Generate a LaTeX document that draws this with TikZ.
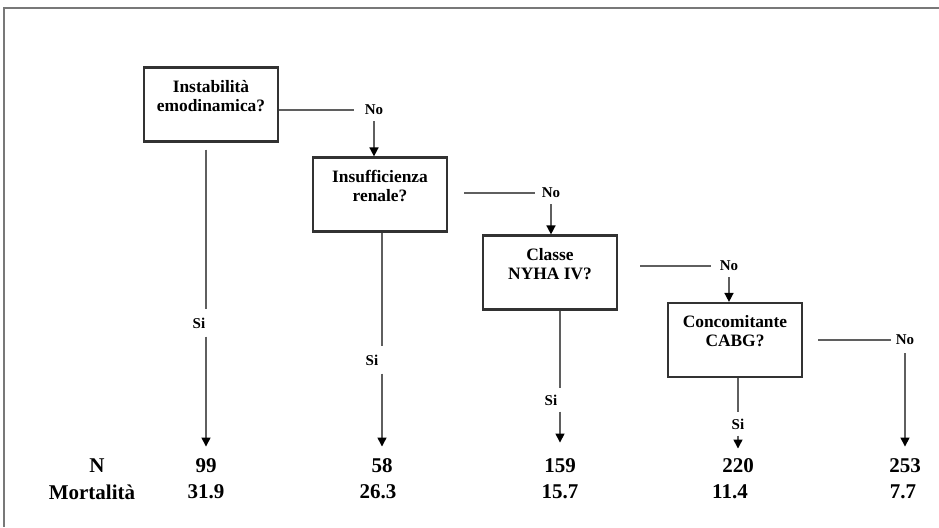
\documentclass[tikz,border=0pt]{standalone}
\usepackage{fontspec}
\setmainfont{Liberation Serif}
\usetikzlibrary{positioning,arrows.meta,calc}
\definecolor{boxgray}{RGB}{50,50,50}
\definecolor{linegray}{RGB}{95,95,95}
\definecolor{framegray}{RGB}{120,120,120}

\begin{document}
\begin{tikzpicture}[x=0.5pt,y=-0.5pt,
  quest/.style={rectangle,draw=boxgray,line width=1.1pt,
    font=\bfseries\fontsize{8.7}{9.5}\selectfont,
    minimum width=67pt,minimum height=37pt,align=center,text depth=9pt,inner sep=2pt},
  yn/.style={font=\bfseries\fontsize{7.5}{8}\selectfont,inner sep=1pt},
  val/.style={font=\bfseries\fontsize{10.5}{12}\selectfont,inner sep=1pt},
  link/.style={linegray,line width=0.75pt},
  arr/.style={-{Triangle[width=4.5pt,length=4.5pt,color=black]},linegray,line width=0.75pt}
]
\useasboundingbox (0,0) rectangle (939,527);
\draw[framegray,line width=1pt] (939,8) -- (4,8) -- (4,527);

% questions
\node[quest] (q1) at (211,104.5) {Instabilità\\emodinamica?};
\node[quest] (q2) at (380,194.5) {Insufficienza\\renale?};
\node[quest] (q3) at (550,272.5) {Classe\\NYHA IV?};
\node[quest] (q4) at (735,340) {Concomitante\\CABG?};

% answers
\node[yn] (no1) at (374,110) {No};
\node[yn] (no2) at (551,193) {No};
\node[yn] (no3) at (729,266) {No};
\node[yn] (no4) at (905,340) {No};
\node[yn] (si1) at (199,323) {Si};
\node[yn] (si2) at (372,360) {Si};
\node[yn] (si3) at (551,400) {Si};
\node[yn] (si4) at (738,424) {Si};

% table
\node[val] (nlab) at (97,466) {N};
\node[val] (mlab) at (92,492) {Mortalità};
\node[val] (n1) at (206,466) {99};
\node[val] (n2) at (382,466) {58};
\node[val] (n3) at (560,466) {159};
\node[val] (n4) at (738,466) {220};
\node[val] (n5) at (905,466) {253};
\node[val] (m1) at (206,492) {31.9};
\node[val] (m2) at (378,492) {26.3};
\node[val] (m3) at (560,492) {15.7};
\node[val] (m4) at (730,492) {11.4};
\node[val] (m5) at (903,492) {7.7};

% no branches
\draw[link,shorten >=4pt] (no1.west -| q1.east) -- (no1.west);
\draw[link,shorten <=8pt,shorten >=2pt] (no2.west -| q2.east) -- (no2.west);
\draw[link,shorten <=11pt,shorten >=3pt] (no3.west -| q3.east) -- (no3.west);
\draw[link,shorten <=7.5pt,shorten >=1pt] (no4.west -| q4.east) -- (no4.west);
\draw[arr,shorten <=2pt] (no1.south) -- (no1.south |- q2.north);
\draw[arr,shorten <=2pt] (no2.south) -- (no2.south |- q3.north);
\draw[arr,shorten <=2pt] (no3.south) -- (no3.south |- q4.north);
\draw[arr,shorten <=3pt,shorten >=5pt] (no4.south) -- (no4.south |- n5.north);

% si branches
\draw[link,shorten <=3.5pt,shorten >=3pt] (n1 |- q1.south) -- (n1 |- si1.north);
\draw[arr,shorten <=3pt,shorten >=5pt] (n1 |- si1.south) -- (n1.north);
\draw[link,shorten >=3pt] (n2 |- q2.south) -- (n2 |- si2.north);
\draw[arr,shorten <=3pt,shorten >=5pt] (n2 |- si2.south) -- (n2.north);
\draw[link,shorten >=2pt] (n3 |- q3.south) -- (n3 |- si3.north);
\draw[arr,shorten <=2pt,shorten >=7pt] (n3 |- si3.south) -- (n3.north);
\draw[link,shorten >=2pt] (n4 |- q4.south) -- (n4 |- si4.north);
\draw[arr,shorten <=2pt,shorten >=4pt] (n4 |- si4.south) -- (n4.north);
\end{tikzpicture}
\end{document}
